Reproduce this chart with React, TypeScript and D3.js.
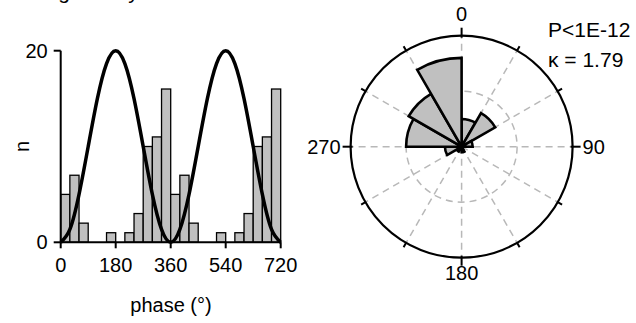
import React from 'react';
import * as d3 from 'd3';

const binStart = [0, 30, 60, 90, 120, 150, 180, 210, 240, 270, 300, 330];
const binCounts = [5, 7, 2, 0, 0, 1, 0, 1, 3, 10, 11, 16];
const cycleOffsets = [0, 360];
const xTicks = [0, 180, 360, 540, 720];
const yTicks = [0, 20];
const curvePhase = [0, 30, 60, 90, 120, 150, 180, 210, 240, 270, 300, 330, 360, 390, 420, 450, 480, 510, 540, 570, 600, 630, 660, 690, 720];
const curveValue = [0, 1.34, 5, 10, 15, 18.66, 20, 18.66, 15, 10, 5, 1.34, 0, 1.34, 5, 10, 15, 18.66, 20, 18.66, 15, 10, 5, 1.34, 0];
const polarTickAngles = [0, 30, 60, 90, 120, 150, 180, 210, 240, 270, 300, 330];
const polarLabelAngles = [0, 90, 180, 270];
const polarLabels = ['0', '90', '180', '270'];
const statsLines = ['P<1E-12', 'κ = 1.79'];
const titleText = 'Strong and dynamic';
const xLabel = 'phase (°)';
const yLabel = 'n';

const FONT = 'Arial, "Liberation Sans", sans-serif';

export default function App() {
  const x = d3.scaleLinear().domain([0, 720]).range([60.7, 280.7]);
  const y = d3.scaleLinear().domain([0, 20]).range([242.3, 50.7]);
  const line = d3
    .line<number>()
    .x((_, i) => x(curvePhase[i]))
    .y((d) => y(d))
    .curve(d3.curveNatural);

  const cx = 461.6;
  const cy = 146.7;
  const R = 111;
  const r = d3.scaleLinear().domain([0, 20]).range([0, R]);
  const rad = (deg: number) => (deg * Math.PI) / 180;
  const arc = d3.arc<any>();
  const pt = (deg: number, rr: number) => [cx + rr * Math.sin(rad(deg)), cy - rr * Math.cos(rad(deg))];

  return (
    <svg width={636} height={323} style={{ position: 'absolute', left: 0, top: 0, background: '#fff' }} fontFamily={FONT}>
      <rect width={636} height={323} fill="#fff" />
      <text x={8} y={-1.5} fontSize={21} fill="#000">{titleText}</text>

      {/* histogram */}
      {cycleOffsets.map((off) =>
        binStart.map((b, i) =>
          binCounts[i] > 0 ? (
            <rect
              key={`${off}-${b}`}
              x={x(b + off)}
              y={y(binCounts[i])}
              width={x(b + off + 30) - x(b + off)}
              height={y(0) - y(binCounts[i])}
              fill="#c0c0c0"
              stroke="#000"
              strokeWidth={1.3}
            />
          ) : null
        )
      )}
      <path d={line(curveValue) || ''} fill="none" stroke="#000" strokeWidth={3.5} />
      {/* axes */}
      <line x1={x(0)} x2={x(0)} y1={y(20)} y2={y(0)} stroke="#000" strokeWidth={2} />
      <line x1={x(0)} x2={x(720)} y1={y(0)} y2={y(0)} stroke="#000" strokeWidth={2} />
      {yTicks.map((t) => (
        <g key={`yt${t}`}>
          <line x1={x(0) - 7} x2={x(0)} y1={y(t)} y2={y(t)} stroke="#000" strokeWidth={2} />
          <text x={x(0) - 13} y={y(t) + 7} fontSize={20} textAnchor="end">{t}</text>
        </g>
      ))}
      {xTicks.map((t) => (
        <g key={`xt${t}`}>
          <line x1={x(t)} x2={x(t)} y1={y(0)} y2={y(0) + 6} stroke="#000" strokeWidth={2} />
          <text x={x(t)} y={271.5} fontSize={20} textAnchor="middle">{t}</text>
        </g>
      ))}
      <text x={171} y={311.5} fontSize={20} textAnchor="middle">{xLabel}</text>
      <text transform={`translate(29,146.5) rotate(-90)`} fontSize={20} textAnchor="middle">{yLabel}</text>

      {/* polar */}
      <circle cx={cx} cy={cy} r={r(10)} fill="none" stroke="#b8b8b8" strokeWidth={1.5} strokeDasharray="7,5" />
      {polarTickAngles.map((a) => {
        const [x2, y2] = pt(a, R);
        return <line key={`sp${a}`} x1={cx} y1={cy} x2={x2} y2={y2} stroke="#b8b8b8" strokeWidth={1.5} strokeDasharray="7,5" />;
      })}
      {binStart.map((b, i) =>
        binCounts[i] > 0 ? (
          <path
            key={`w${b}`}
            transform={`translate(${cx},${cy})`}
            d={arc({ innerRadius: 0, outerRadius: r(binCounts[i]), startAngle: rad(b), endAngle: rad(b + 30) }) || ''}
            fill="#c0c0c0"
            stroke="#000"
            strokeWidth={2.6}
            strokeLinejoin="miter"
          />
        ) : null
      )}
      <circle cx={cx} cy={cy} r={R} fill="none" stroke="#000" strokeWidth={2.2} />
      {polarTickAngles.map((a) => {
        const major = a % 90 === 0;
        const [x1, y1] = pt(a, major ? 109 : 111);
        const [x2, y2] = pt(a, major ? 119 : 116);
        return <line key={`pt${a}`} x1={x1} y1={y1} x2={x2} y2={y2} stroke="#000" strokeWidth={2} />;
      })}
      {polarLabelAngles.map((a, i) => {
        if (a === 0) return <text key="l0" x={cx} y={cy - R - 15} fontSize={20} textAnchor="middle">{polarLabels[i]}</text>;
        if (a === 180) return <text key="l180" x={cx} y={cy + R + 22} fontSize={20} textAnchor="middle">{polarLabels[i]}</text>;
        if (a === 90) return <text key="l90" x={cx + R + 10} y={cy + 7} fontSize={20} textAnchor="start">{polarLabels[i]}</text>;
        return <text key="l270" x={cx - R - 10} y={cy + 7} fontSize={20} textAnchor="end">{polarLabels[i]}</text>;
      })}
      {statsLines.map((s, i) => (
        <text key={`s${i}`} x={548} y={36.7 + i * 30} fontSize={21}>{s}</text>
      ))}
    </svg>
  );
}
